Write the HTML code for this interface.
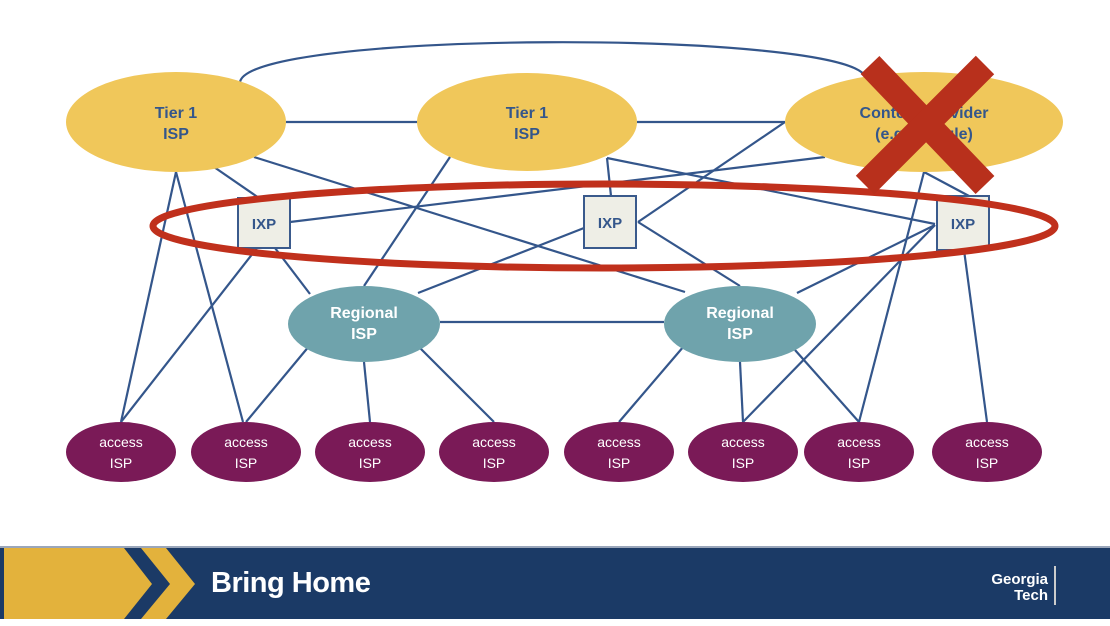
<!DOCTYPE html>
<html><head><meta charset="utf-8"><style>
body{margin:0;width:1110px;height:626px;overflow:hidden;background:#fff;font-family:"Liberation Sans",sans-serif}
</style></head><body>
<svg width="1110" height="626" viewBox="0 0 1110 626" xmlns="http://www.w3.org/2000/svg" style="position:absolute;left:0;top:0">
<g stroke="#34568b" stroke-width="2.2" fill="none">
<path d="M240 82 C 250 30, 840 30, 865 76"/>
<line x1="286" y1="122" x2="418" y2="122"/>
<line x1="637" y1="122" x2="785" y2="122"/>
<line x1="176" y1="172" x2="121" y2="422"/>
<line x1="176" y1="172" x2="243" y2="422"/>
<line x1="214" y1="167" x2="259" y2="198"/>
<line x1="254" y1="157" x2="685" y2="292"/>
<line x1="290" y1="222" x2="825" y2="157"/>
<line x1="785" y1="122" x2="638" y2="222"/>
<line x1="450" y1="157" x2="364" y2="286"/>
<line x1="607" y1="158" x2="611" y2="196"/>
<line x1="607" y1="158" x2="935" y2="224"/>
<line x1="638" y1="222" x2="740" y2="286"/>
<line x1="584" y1="228" x2="418" y2="293"/>
<line x1="257" y1="248" x2="121" y2="422"/>
<line x1="275" y1="248" x2="310" y2="294"/>
<line x1="310" y1="345" x2="246" y2="422"/>
<line x1="364" y1="362" x2="370" y2="422"/>
<line x1="418" y1="346" x2="494" y2="422"/>
<line x1="440" y1="322" x2="664" y2="322"/>
<line x1="684" y1="346" x2="619" y2="422"/>
<line x1="740" y1="362" x2="743" y2="422"/>
<line x1="795" y1="350" x2="859" y2="422"/>
<line x1="797" y1="293" x2="935" y2="225"/>
<line x1="964" y1="250" x2="987" y2="422"/>
<line x1="924" y1="172" x2="859" y2="422"/>
<line x1="935" y1="225" x2="743" y2="422"/>
<line x1="924" y1="172" x2="969" y2="196"/>
</g>
<g font-weight="bold" text-anchor="middle">
<ellipse cx="176" cy="122" rx="110" ry="50" fill="#f0c75a"/>
<text x="176" y="118" font-size="16" fill="#34568b">Tier 1</text><text x="176" y="139" font-size="16" fill="#34568b">ISP</text>
<ellipse cx="527" cy="122" rx="110" ry="49" fill="#f0c75a"/>
<text x="527" y="118" font-size="16" fill="#34568b">Tier 1</text><text x="527" y="139" font-size="16" fill="#34568b">ISP</text>
<ellipse cx="924" cy="122" rx="139" ry="50" fill="#f0c75a"/>
<text x="924" y="118" font-size="16" fill="#34568b">Content provider</text><text x="924" y="139" font-size="16" fill="#34568b">(e.g. Google)</text>
<g fill="#eeeee6" stroke="#3a5a8c" stroke-width="2">
<rect x="238" y="198" width="52" height="50"/><rect x="584" y="196" width="52" height="52"/><rect x="937" y="196" width="52" height="54"/>
</g>
<text x="264" y="229" font-size="15" fill="#34568b">IXP</text>
<text x="610" y="228" font-size="15" fill="#34568b">IXP</text>
<text x="963" y="229" font-size="15" fill="#34568b">IXP</text>
<ellipse cx="364" cy="324" rx="76" ry="38" fill="#6fa3ac"/>
<text x="364" y="318" font-size="16" fill="#fff">Regional</text><text x="364" y="339" font-size="16" fill="#fff">ISP</text>
<ellipse cx="740" cy="324" rx="76" ry="38" fill="#6fa3ac"/>
<text x="740" y="318" font-size="16" fill="#fff">Regional</text><text x="740" y="339" font-size="16" fill="#fff">ISP</text>
<g fill="#7a1a57">
<ellipse cx="121" cy="452" rx="55" ry="30"/><ellipse cx="246" cy="452" rx="55" ry="30"/><ellipse cx="370" cy="452" rx="55" ry="30"/><ellipse cx="494" cy="452" rx="55" ry="30"/>
<ellipse cx="619" cy="452" rx="55" ry="30"/><ellipse cx="743" cy="452" rx="55" ry="30"/><ellipse cx="859" cy="452" rx="55" ry="30"/><ellipse cx="987" cy="452" rx="55" ry="30"/>
</g>
<g font-weight="normal" font-size="14" fill="#fff">
<text x="121" y="447">access</text><text x="121" y="468">ISP</text>
<text x="246" y="447">access</text><text x="246" y="468">ISP</text>
<text x="370" y="447">access</text><text x="370" y="468">ISP</text>
<text x="494" y="447">access</text><text x="494" y="468">ISP</text>
<text x="619" y="447">access</text><text x="619" y="468">ISP</text>
<text x="743" y="447">access</text><text x="743" y="468">ISP</text>
<text x="859" y="447">access</text><text x="859" y="468">ISP</text>
<text x="987" y="447">access</text><text x="987" y="468">ISP</text>
</g>
</g>
<ellipse cx="604" cy="226" rx="451" ry="42" fill="none" stroke="#c0301c" stroke-width="7"/>
<g stroke="#b8301c" stroke-width="26">
<line x1="870" y1="65" x2="985" y2="185"/>
<line x1="985" y1="65" x2="865" y2="185"/>
</g>
<rect x="0" y="546" width="1110" height="73" fill="#1b3a66"/>
<rect x="0" y="546" width="1110" height="2" fill="#9aa6ba"/>
<polygon points="4,548 124,548 152,584 124,619 4,619" fill="#e3b23c"/>
<polygon points="141,548 166,548 195,584 166,619 141,619 170,584" fill="#e3b23c"/>
<text x="211" y="592" font-size="29" font-weight="bold" fill="#fff" letter-spacing="-0.5">Bring Home</text>
<text x="1048" y="584" font-size="15" font-weight="bold" fill="#fff" text-anchor="end">Georgia</text>
<text x="1048" y="600" font-size="15" font-weight="bold" fill="#fff" text-anchor="end">Tech</text>
<line x1="1055" y1="566" x2="1055" y2="605" stroke="#ccc" stroke-width="2"/>
</svg>
</body></html>
